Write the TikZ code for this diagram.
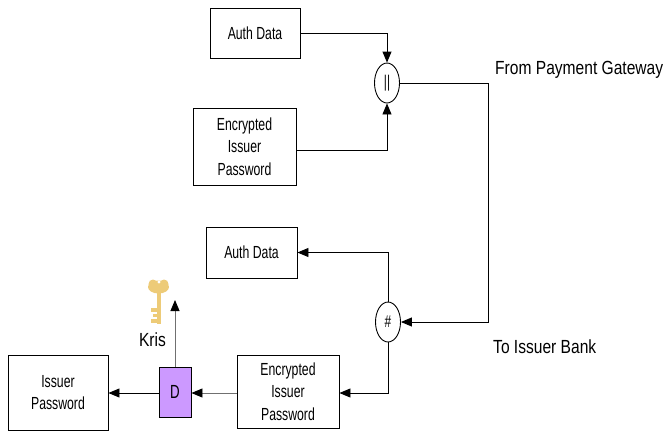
\documentclass[tikz,border=0pt]{standalone}
\usepackage{fontspec}
\setmainfont{Liberation Sans}[FakeStretch=0.82]
\newfontfamily\boxfont{Liberation Sans}[FakeStretch=0.7]
\usetikzlibrary{arrows.meta,shapes.geometric}
\definecolor{dpurple}{HTML}{CC99FF}
\definecolor{keygold}{HTML}{EDCB78}
\definecolor{lgray}{HTML}{707070}
\tikzset{
  x=1pt,y=-1pt,
  box/.style={draw,line width=0.9pt,inner sep=0pt,align=center,font=\boxfont\fontsize{17.5}{22.5}\selectfont},
  op/.style={draw,ellipse,line width=0.9pt,minimum width=25pt,minimum height=40pt,inner sep=0pt,font=\boxfont\fontsize{17}{18}\selectfont},
  conn/.style={line width=0.9pt,-{Triangle[length=11pt,width=9pt,color=black]}},
  gconn/.style={conn,draw=lgray},
  lbl/.style={inner sep=0pt,font=\fontsize{19}{22}\selectfont},
}
\begin{document}
\begin{tikzpicture}
\useasboundingbox (0,0) rectangle (665,432);
% boxes
\node[box,minimum width=90pt,minimum height=50pt] (ad1) at (255,33) {Auth Data};
\node[box,minimum width=103pt,minimum height=77pt] (ep1) at (244.5,146.5) {Encrypted\\Issuer\\Password};
\node[op] (cat) at (387,83) {||};
\node[box,minimum width=91pt,minimum height=51pt] (ad2) at (251.5,252.5) {Auth Data};
\node[op] (hash) at (388,322) {\#};
\node[box,minimum width=102pt,minimum height=73pt] (ep2) at (288,391.5) {Encrypted\\Issuer\\Password};
\node[box,fill=dpurple,minimum width=32pt,minimum height=50pt,font=\boxfont\fontsize{19}{20}\selectfont] (dec) at (175,392) {D};
\node[box,minimum width=100pt,minimum height=75pt] (ip) at (58,392.5) {Issuer\\Password};
\coordinate (rt) at (488,83);
\coordinate (keyend) at (175,300);
% labels
\node[lbl,anchor=west] (from) at (495,70) {From Payment Gateway};
\node[lbl,anchor=west] (to) at (493,347) {To Issuer Bank};
\node[lbl] (kris) at (152.5,340) {Kris};
% key
\begin{scope}[fill=keygold,draw=none]
  \fill (158.5,287) ellipse [x radius=10.5, y radius=6.5];
  \fill (153,284) circle (4.5);
  \fill (164,284) circle (4.5);
  \fill (156.5,291) rectangle (161,324);
  \fill (151,308) rectangle (157,311.5);
  \fill (152.5,313.5) rectangle (157,316.5);
  \fill (151,318.5) rectangle (157,322.5);
  \fill[white] (159,282) circle (1.6);
\end{scope}
% connectors
\draw[conn] (ad1.east) -| (cat.north);
\draw[conn] ([yshift=-3.5pt]ep1.east) -| (cat.south);
\draw[conn] (cat.east) -- (rt) |- (hash.east);
\draw[conn] (hash.north) |- (ad2.east);
\draw[conn] (hash.south) |- ([yshift=-1.5pt]ep2.east);
\draw[gconn] ([yshift=-1.5pt]ep2.west) -- ([yshift=-1pt]dec.east);
\draw[conn] ([yshift=-1pt]dec.west) -- ([yshift=-0.5pt]ip.east);
\draw[gconn] (dec.north) -- (keyend);
\end{tikzpicture}
\end{document}
